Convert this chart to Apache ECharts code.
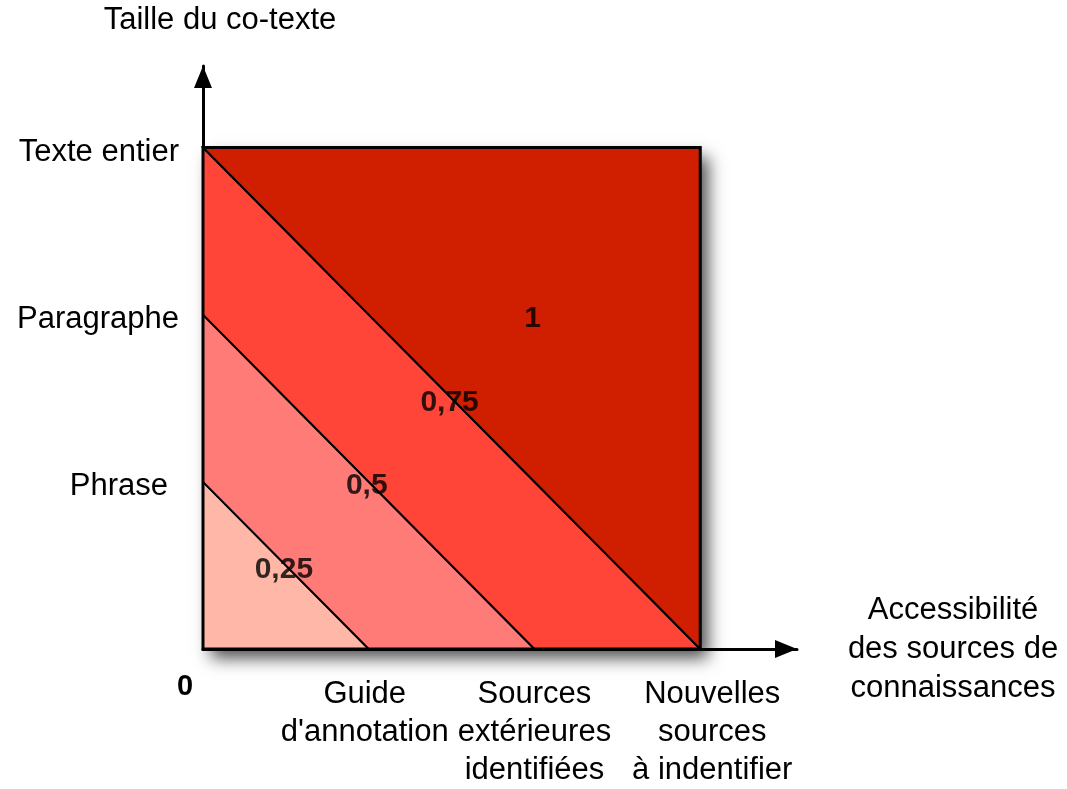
<!DOCTYPE html>
<html><head><meta charset="utf-8">
<script src="https://cdn.jsdelivr.net/npm/echarts@6/dist/echarts.min.js"></script>
<style>html,body{margin:0;padding:0;background:#fff}#c{width:1067px;height:789px}</style>
</head><body><div id="c"></div>
<script>
// Axis categories (positions 0..3 along each axis)
const xCategories = ['0', "Guide\nd'annotation", 'Sources\nextérieures\nidentifiées', 'Nouvelles\nsources\nà indentifier'];
const yCategories = ['', 'Phrase', 'Paragraphe', 'Texte entier'];
const xAxisName = 'Accessibilité\ndes sources de\nconnaissances';
const yAxisName = 'Taille du co-texte';
// Zones: score value and the x+y bounds of each diagonal band
const zoneValues = ['0,25', '0,5', '0,75', '1'];
const zoneLower = [0, 1, 2, 3];
const zoneUpper = [1, 2, 3, 6];
const zoneColors = ['#FFB8A8', '#FF7B78', '#FF4538', '#CF1E00'];
// Label anchors of each zone (data coordinates)
const labelX = [0.5, 1, 1.5, 2];
const labelY = [0.5, 1, 1.5, 2];
const squareMax = 3;

function bandPolygon(lo, hi, m) {
  function clip(poly, f) {
    const out = [];
    for (let i = 0; i < poly.length; i++) {
      const a = poly[i], b = poly[(i+1)%poly.length];
      const fa = f(a), fb = f(b);
      if (fa >= 0) out.push(a);
      if ((fa >= 0) !== (fb >= 0)) {
        const t = fa / (fa - fb);
        out.push([a[0] + t*(b[0]-a[0]), a[1] + t*(b[1]-a[1])]);
      }
    }
    return out;
  }
  let poly = [[0,0],[m,0],[m,m],[0,m]];
  poly = clip(poly, p => p[0] + p[1] - lo);
  poly = clip(poly, p => hi - (p[0] + p[1]));
  return poly;
}

const chart = echarts.init(document.getElementById('c'), null, {renderer: 'canvas'});
const font = '"Liberation Sans", Arial, Helvetica, sans-serif';
const FS = 31;

chart.setOption({
  animation: false,
  grid: {left: 203, right: 270, top: 66, bottom: 137},
  xAxis: {
    type: 'value', min: 0, max: 3.584, interval: 1,
    splitLine: {show: false},
    axisTick: {show: false},
    axisLine: {show: true, lineStyle: {color: '#000', width: 3}, symbol: ['none', 'triangle'], symbolSize: [18, 22], symbolOffset: [0, -11]},
    axisLabel: {
      showMaxLabel: false,
      margin: 26, color: '#000', fontSize: FS, fontFamily: font, lineHeight: 38,
      formatter: v => {
        if (v === 0) return '{z|0}';
        if (v === 1) return '{g|' + xCategories[1].split('\n').join('}\n{g|') + '}';
        if (v === 3) return '{r|' + xCategories[3].split('\n').join('}\n{r|') + '}';
        return Number.isInteger(v) && v <= 3 ? xCategories[v] : '';
      },
      rich: {
        z: {fontWeight: 'bold', fontSize: FS - 2, fontFamily: font, padding: [0, 36, 0, 0], lineHeight: 24},
        g: {fontSize: FS, fontFamily: font, color: '#000', lineHeight: 38, padding: [0, 8, 0, 0]},
        r: {fontSize: FS, fontFamily: font, color: '#000', lineHeight: 38, padding: [0, 0, 0, 24]}
      }
    },
    name: xAxisName, nameLocation: 'end', nameGap: 156,
    nameTextStyle: {color: '#000', fontSize: FS, fontFamily: font, lineHeight: 39, align: 'center', verticalAlign: 'middle'}
  },
  yAxis: {
    type: 'value', min: 0, max: 3.488, interval: 1,
    splitLine: {show: false},
    axisTick: {show: false},
    axisLine: {show: true, lineStyle: {color: '#000', width: 3}, symbol: ['none', 'triangle'], symbolSize: [18, 22], symbolOffset: [0, -11]},
    axisLabel: {
      showMaxLabel: false,
      margin: 24, color: '#000', fontSize: FS, fontFamily: font,
      verticalAlign: 'top', lineHeight: 10,
      formatter: v => {
        if (!(Number.isInteger(v) && v <= 3)) return '';
        return v === 1 ? '{p|' + yCategories[v] + '}' : '{n|' + yCategories[v] + '}';
      },
      rich: {
        n: {fontSize: FS, fontFamily: font, color: '#000', lineHeight: 10},
        p: {fontSize: FS, fontFamily: font, color: '#000', lineHeight: 10, padding: [0, 11, 0, 0]}
      }
    },
    name: yAxisName, nameLocation: 'end', nameGap: 30,
    nameTextStyle: {color: '#000', fontSize: FS, fontFamily: font, align: 'center', padding: [0, 0, 0, 34]}
  },
  series: [
    {
      type: 'custom',
      coordinateSystem: 'cartesian2d',
      silent: true,
      z: 1,
      data: [[0]],
      renderItem: (params, api) => {
        const p0 = api.coord([0, 0]);
        const p1 = api.coord([squareMax, squareMax]);
        return {
          type: 'rect',
          shape: {x: p0[0], y: p1[1], width: p1[0]-p0[0], height: p0[1]-p1[1]},
          style: {fill: '#fff', shadowBlur: 16, shadowOffsetX: 8, shadowOffsetY: 9, shadowColor: 'rgba(0,0,0,0.7)'}
        };
      }
    },
    {
      type: 'custom',
      coordinateSystem: 'cartesian2d',
      silent: true,
      z: 2,
      data: zoneValues.map((v, i) => [i]),
      renderItem: (params, api) => {
        const i = api.value(0);
        const poly = bandPolygon(zoneLower[i], zoneUpper[i], squareMax).map(p => api.coord(p));
        return {
          type: 'polygon',
          shape: {points: poly},
          style: {fill: zoneColors[i], stroke: '#000', lineWidth: 2}
        };
      }
    },
    {
      type: 'custom',
      coordinateSystem: 'cartesian2d',
      silent: true,
      z: 3,
      data: [[0]],
      renderItem: (params, api) => {
        const p0 = api.coord([0, 0]);
        const p1 = api.coord([squareMax, squareMax]);
        return {
          type: 'rect',
          shape: {x: p0[0], y: p1[1], width: p1[0]-p0[0], height: p0[1]-p1[1]},
          style: {fill: 'none', stroke: '#000', lineWidth: 3}
        };
      }
    },
    {
      type: 'scatter',
      silent: true,
      z: 4,
      symbolSize: 0,
      data: zoneValues.map((v, i) => ({value: [labelX[i], labelY[i]], name: v})),
      label: {
        show: true, position: 'inside', formatter: p => p.name, offset: [-2, 4],
        color: '#000', fontSize: FS - 1, fontWeight: 'bold', fontFamily: font
      }
    }
  ]
});
</script></body></html>
